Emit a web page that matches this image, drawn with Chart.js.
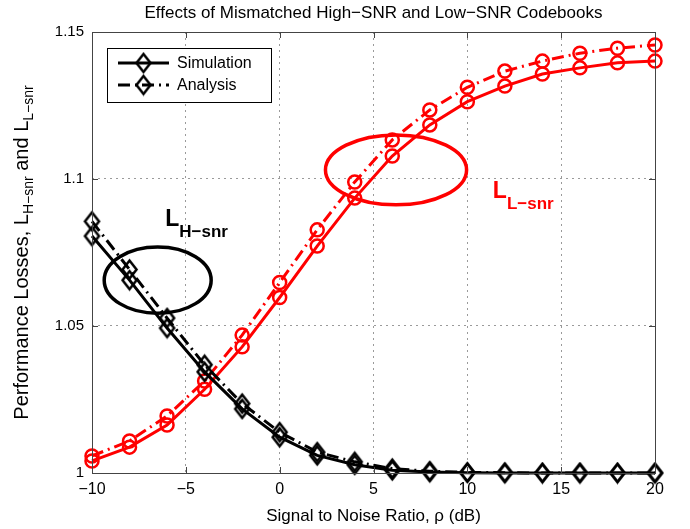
<!DOCTYPE html>
<html lang="en">
<head>
<meta charset="UTF-8">
<title>Effects of Mismatched High-SNR and Low-SNR Codebooks</title>
<script src="https://cdn.jsdelivr.net/npm/chart.js"></script>
<style>
  html, body { margin: 0; padding: 0; background: #fff; }
</style>
</head>
<body>
<canvas id="myChart" width="690" height="529"></canvas>
<script>
// data (SNR in dB)
const snr = [-10, -8, -6, -4, -2, 0, 2, 4, 6, 8, 10, 12, 14, 16, 18, 20];
const hSnrSim = [1.0806, 1.0656, 1.0493, 1.0344, 1.0218, 1.0122, 1.0060, 1.0028, 1.0009, 1.0003, 1.0001, 1.0, 1.0, 1.0, 1.0, 1.0];
const hSnrAna = [1.0856, 1.0692, 1.0527, 1.0368, 1.0236, 1.0139, 1.0071, 1.0038, 1.0015, 1.0006, 1.0002, 1.0001, 1.0, 1.0, 1.0, 1.0];
const lSnrSim = [1.0041, 1.0088, 1.0163, 1.0285, 1.0429, 1.0597, 1.0772, 1.0935, 1.1078, 1.1184, 1.1263, 1.1316, 1.1357, 1.1378, 1.1395, 1.1401];
const lSnrAna = [1.0058, 1.0109, 1.0194, 1.0313, 1.0469, 1.0648, 1.0827, 1.0990, 1.1133, 1.1235, 1.1312, 1.1367, 1.1401, 1.1428, 1.1445, 1.1456];
const xTicks = [-10, -5, 0, 5, 10, 15, 20];
const yTicks = [1, 1.05, 1.1, 1.15];
const legendLabels = ['Simulation', 'Analysis'];

const FONT = '"Liberation Sans", Arial, Helvetica, sans-serif';
Chart.defaults.font.family = FONT;

const DASHDOT = [12, 5, 2, 5];

// ellipses and labels marking the two curve families (data coordinates)
const marks = [
    { color: '#000', cx: -6.5, cy: 1.0656, rx: 2.85, ry: 0.0113, lx: -6.1, ly: 1.084, main: 'L', sub: 'H\u2212snr' },
    { color: '#ff0000', cx: 6.2, cy: 1.1031, rx: 3.76, ry: 0.0119, lx: 11.36, ly: 1.0935, main: 'L', sub: 'L\u2212snr' }
];

// MATLAB-like hollow diamond, a bit taller than wide
function diamondMarker(w, h, lw) {
    const c = document.createElement('canvas');
    c.width = w + lw * 2; c.height = h + lw * 2;
    const g = c.getContext('2d');
    const cx = c.width / 2, cy = c.height / 2;
    g.strokeStyle = '#000';
    g.lineWidth = lw;
    g.lineJoin = 'miter';
    g.beginPath();
    g.moveTo(cx - w / 2, cy); g.lineTo(cx, cy - h / 2);
    g.lineTo(cx + w / 2, cy); g.lineTo(cx, cy + h / 2);
    g.closePath();
    g.stroke();
    return c;
}
const diamond = diamondMarker(14, 18, 2.5);

function fmtMinus(v) {
    return v < 0 ? '\u2212' + Math.abs(v) : String(v);
}

const decorations = {
    id: 'decorations',
    afterDraw(chart) {
        const ctx = chart.ctx;
        const a = chart.chartArea;
        const xs = chart.scales.x, ys = chart.scales.y;
        ctx.save();

        // inner tick marks + frame
        ctx.strokeStyle = '#444';
        ctx.lineWidth = 1;
        ctx.beginPath();
        xTicks.forEach(v => {
            const px = Math.round(xs.getPixelForValue(v)) + 0.5;
            ctx.moveTo(px, a.bottom); ctx.lineTo(px, a.bottom - 6);
            ctx.moveTo(px, a.top); ctx.lineTo(px, a.top + 6);
        });
        yTicks.forEach(v => {
            const py = Math.round(ys.getPixelForValue(v)) + 0.5;
            ctx.moveTo(a.left, py); ctx.lineTo(a.left + 6, py);
            ctx.moveTo(a.right, py); ctx.lineTo(a.right - 6, py);
        });
        ctx.stroke();
        ctx.strokeRect(Math.round(a.left) + 0.5, Math.round(a.top) + 0.5, Math.round(a.right - a.left), Math.round(a.bottom - a.top));

        // ellipses and curve labels
        marks.forEach(m => {
            const cx = xs.getPixelForValue(m.cx), cy = ys.getPixelForValue(m.cy);
            const rx = Math.abs(xs.getPixelForValue(m.cx + m.rx) - cx);
            const ry = Math.abs(ys.getPixelForValue(m.cy + m.ry) - cy);
            ctx.strokeStyle = m.color;
            ctx.lineWidth = 3.5;
            ctx.beginPath();
            ctx.ellipse(cx, cy, rx, ry, 0, 0, Math.PI * 2);
            ctx.stroke();

            const lx = xs.getPixelForValue(m.lx), ly = ys.getPixelForValue(m.ly);
            ctx.fillStyle = m.color;
            ctx.textAlign = 'left';
            ctx.textBaseline = 'alphabetic';
            ctx.font = 'bold 23px ' + FONT;
            ctx.fillText(m.main, lx, ly);
            const w = ctx.measureText(m.main).width;
            ctx.font = 'bold 17px ' + FONT;
            ctx.fillText(m.sub, lx + w, ly + 11);
        });

        // legend box
        const bx = 107, by = 48, bw = 164, bh = 54;
        ctx.fillStyle = '#fff';
        ctx.fillRect(bx, by, bw, bh);
        ctx.strokeStyle = '#000';
        ctx.lineWidth = 1;
        ctx.strokeRect(bx + 0.5, by + 0.5, bw, bh);
        [0, 1].forEach(i => {
            const ds = chart.data.datasets[i];
            const y = by + 15 + i * 22;
            ctx.strokeStyle = '#000';
            ctx.lineWidth = ds.borderWidth;
            ctx.setLineDash(ds.borderDash || []);
            ctx.beginPath();
            ctx.moveTo(118, y); ctx.lineTo(169, y);
            ctx.stroke();
            ctx.setLineDash([]);
            ctx.drawImage(diamond, 143.5 - diamond.width / 2, y - diamond.height / 2);
            ctx.fillStyle = '#000';
            ctx.font = '16px ' + FONT;
            ctx.textBaseline = 'middle';
            ctx.fillText(legendLabels[i], 177, y + 1);
        });

        // titles
        const midX = (a.left + a.right) / 2;
        ctx.fillStyle = '#000';
        ctx.textAlign = 'center';
        ctx.textBaseline = 'middle';
        ctx.font = '17px ' + FONT;
        ctx.fillText('Effects of Mismatched High\u2212SNR and Low\u2212SNR Codebooks', midX, 13);
        ctx.fillText('Signal to Noise Ratio, \u03c1 (dB)', midX, 516);

        // y axis title with subscripts
        ctx.translate(21, (a.top + a.bottom) / 2);
        ctx.rotate(-Math.PI / 2);
        const parts = [['Performance Losses, L', 20, 0], ['H\u2212snr', 14, 5], [' and L', 20, 0], ['L\u2212snr', 14, 5]];
        let total = 0;
        parts.forEach(p => { ctx.font = p[1] + 'px ' + FONT; total += ctx.measureText(p[0]).width; });
        let x0 = -total / 2;
        ctx.textAlign = 'left';
        ctx.textBaseline = 'alphabetic';
        parts.forEach(p => {
            ctx.font = p[1] + 'px ' + FONT;
            ctx.fillText(p[0], x0, 7 + p[2]);
            x0 += ctx.measureText(p[0]).width;
        });
        ctx.restore();
    }
};

function series(label, data, color, dash, style, radius) {
    return {
        label: label,
        data: data.map((v, i) => ({ x: snr[i], y: v })),
        borderColor: color,
        borderWidth: 3,
        borderDash: dash,
        pointStyle: style,
        pointRadius: radius,
        pointBorderWidth: 2.5,
        pointBorderColor: color,
        pointBackgroundColor: 'rgba(255,255,255,0)',
        pointHoverRadius: radius,
        fill: false,
        tension: 0,
        clip: false
    };
}

new Chart(document.getElementById('myChart').getContext('2d'), {
    type: 'line',
    data: {
        datasets: [
            series('Simulation', hSnrSim, '#000', [], diamond, 9),
            series('Analysis', hSnrAna, '#000', DASHDOT, diamond, 9),
            series('L-snr Simulation', lSnrSim, '#ff0000', [], 'circle', 6.5),
            series('L-snr Analysis', lSnrAna, '#ff0000', DASHDOT, 'circle', 6.5)
        ]
    },
    options: {
        responsive: false,
        animation: false,
        events: [],
        layout: { padding: { top: 32, right: 35, left: 0, bottom: 0 } },
        plugins: {
            legend: { display: false },
            title: { display: false },
            tooltip: { enabled: false }
        },
        scales: {
            x: {
                type: 'linear',
                min: -10,
                max: 20,
                afterBuildTicks: s => { s.ticks = xTicks.map(v => ({ value: v })); },
                afterFit: s => { s.height = 56; },
                ticks: {
                    color: '#000',
                    font: { size: 16 },
                    padding: 7,
                    maxRotation: 0,
                    callback: v => fmtMinus(v)
                },
                grid: { color: '#9a9a9a', lineWidth: 1, tickLength: 0 },
                border: { display: false, dash: [2, 4] }
            },
            y: {
                min: 1,
                max: 1.15,
                afterBuildTicks: s => { s.ticks = yTicks.map(v => ({ value: v })); },
                afterFit: s => { s.width = 92; },
                ticks: {
                    color: '#000',
                    font: { size: 15 },
                    padding: 8,
                    callback: v => String(+v.toFixed(2))
                },
                grid: { color: '#9a9a9a', lineWidth: 1, tickLength: 0 },
                border: { display: false, dash: [2, 4] }
            }
        }
    },
    plugins: [decorations]
});
</script>
</body>
</html>
